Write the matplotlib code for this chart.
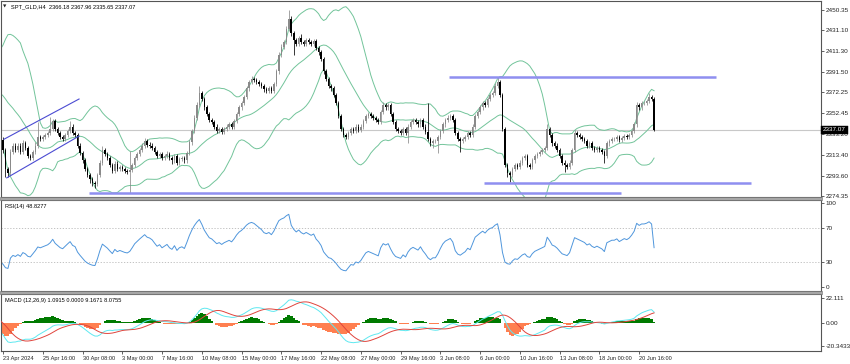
import matplotlib
matplotlib.use("Agg")
import matplotlib.pyplot as plt
import numpy as np
import pandas as pd
from matplotlib.patches import Rectangle

# H4 closes before the visible window, only used to warm up the indicators
pre_closes = [
    2340, 2345, 2350, 2352, 2355, 2352,
    2352, 2350, 2345, 2340, 2335, 2333,
    2335, 2340, 2345, 2360, 2372, 2372,
    2380, 2395, 2410, 2420, 2370, 2344,
    2350, 2355, 2360, 2370, 2380, 2383,
    2375, 2380, 2385, 2390, 2384, 2383,
    2380, 2375, 2370, 2365, 2362, 2361,
    2365, 2370, 2375, 2380, 2378, 2379,
    2400, 2390, 2385, 2395, 2392, 2391,
    2385, 2375, 2350, 2335, 2330, 2327,
]

# visible H4 closes, 23 Apr 00:00 -> 21 Jun 16:00, one row per trading day
closes = [
    2318, 2300, 2296, 2316, 2322, 2318,
    2322, 2316, 2324, 2320, 2312, 2310,
    2316, 2322, 2330, 2328, 2330, 2332,
    2334, 2338, 2345, 2338, 2334, 2330,
    2328, 2332, 2336, 2340, 2334, 2332,
    2322, 2315, 2308, 2300, 2294, 2290,
    2287, 2286, 2294, 2306, 2318, 2314,
    2310, 2304, 2298, 2305, 2300, 2302,
    2300, 2298, 2297, 2299, 2304, 2310,
    2314, 2318, 2322, 2326, 2323, 2322,
    2320, 2316, 2312, 2314, 2310, 2312,
    2314, 2310, 2308, 2312, 2306, 2309,
    2310, 2308, 2315, 2325, 2336, 2348,
    2360, 2372, 2366, 2358, 2352, 2346,
    2344, 2340, 2336, 2338, 2335, 2338,
    2340, 2342, 2340, 2345, 2352, 2358,
    2362, 2368, 2376, 2382, 2385, 2384,
    2382, 2380, 2378, 2375, 2374, 2376,
    2374, 2380, 2392, 2408, 2415, 2420,
    2432, 2442, 2428, 2422, 2418, 2424,
    2420, 2418, 2422, 2420, 2418, 2421,
    2414, 2410, 2404, 2392, 2385, 2378,
    2376, 2370, 2362, 2350, 2338, 2332,
    2330, 2334, 2338, 2336, 2340, 2337,
    2340, 2345, 2350, 2352, 2350, 2348,
    2346, 2344, 2354, 2360, 2358, 2360,
    2352, 2344, 2338, 2336, 2334, 2338,
    2334, 2340, 2344, 2346, 2344, 2342,
    2346, 2340, 2335, 2328, 2324, 2326,
    2326, 2330, 2336, 2342, 2346, 2348,
    2350, 2346, 2334, 2328, 2326, 2328,
    2330, 2334, 2332, 2340, 2350, 2354,
    2358, 2362, 2360, 2366, 2370, 2372,
    2378, 2382, 2370, 2338, 2304, 2296,
    2294, 2300, 2304, 2302, 2306, 2310,
    2312, 2304, 2302, 2308, 2312, 2314,
    2316, 2318, 2320, 2338, 2332, 2324,
    2322, 2318, 2312, 2306, 2304, 2302,
    2306, 2318, 2334, 2332, 2330, 2328,
    2326, 2322, 2324, 2320, 2318, 2320,
    2318, 2316, 2312, 2324, 2326, 2328,
    2328, 2330, 2327, 2329, 2331, 2330,
    2332, 2336, 2342, 2360, 2358, 2362,
    2362, 2364, 2368, 2366.18, 2337.07,
]

# wick length above the body / below the body
wick_up = [
    3, 2, 2, 3, 2, 2,  2, 2, 3, 2, 2, 2,  2, 3, 14, 2, 2, 2,  2, 11, 2, 2, 2, 2,
    2, 2, 2, 5, 2, 2,  2, 2, 2, 2, 2, 2,  2, 2, 2, 2, 4, 2,  2, 2, 2, 2, 2, 2,
    2, 2, 2, 18, 2, 2,  2, 2, 2, 3, 2, 2,  2, 2, 2, 2, 2, 2,  3, 2, 2, 2, 2, 2,
    2, 2, 2, 2, 2, 3,  3, 6, 2, 2, 2, 2,  2, 2, 2, 2, 2, 2,  2, 2, 2, 2, 2, 2,
    2, 2, 2, 2, 3, 2,  2, 2, 2, 2, 2, 2,  2, 2, 2, 2, 3, 2,  3, 8, 2, 2, 2, 2,
    3, 2, 2, 2, 2, 2,  2, 2, 2, 2, 2, 2,  2, 2, 2, 2, 2, 2,  2, 2, 2, 2, 2, 2,
    2, 2, 2, 2, 2, 2,  2, 2, 2, 3, 2, 2,  2, 2, 2, 2, 2, 2,  2, 2, 2, 2, 2, 2,
    2, 2, 2, 27, 2, 2,  2, 2, 2, 2, 2, 3,  2, 2, 2, 2, 2, 2,  2, 2, 2, 2, 2, 2,
    2, 2, 2, 2, 2, 2,  3, 5, 2, 2, 2, 2,  2, 2, 2, 2, 2, 2,  2, 2, 2, 2, 2, 2,
    2, 2, 2, 4, 2, 2,  2, 2, 2, 2, 2, 2,  2, 2, 3, 2, 2, 2,  2, 2, 2, 2, 2, 2,
    2, 2, 2, 2, 2, 2,  2, 2, 2, 2, 2, 2,  2, 2, 2, 3, 2, 2,  2, 2, 4, 2, 1.78,
]
wick_dn = [
    3, 8, 4, 2, 2, 2,  2, 2, 2, 2, 2, 2,  2, 2, 2, 2, 2, 2,  2, 2, 2, 2, 2, 2,
    2, 2, 2, 2, 2, 2,  2, 2, 2, 2, 2, 3,  3, 4, 2, 2, 2, 2,  2, 2, 2, 2, 2, 2,
    2, 2, 2, 20, 2, 2,  2, 2, 2, 2, 2, 2,  2, 2, 2, 2, 2, 2,  2, 2, 3, 2, 2, 2,
    2, 2, 2, 2, 2, 2,  2, 2, 2, 2, 2, 2,  2, 2, 2, 2, 2, 2,  2, 2, 2, 2, 2, 2,
    2, 2, 2, 2, 2, 2,  2, 2, 2, 2, 2, 2,  2, 2, 2, 2, 2, 2,  2, 2, 2, 14, 2, 2,
    2, 2, 2, 2, 2, 2,  2, 2, 2, 2, 2, 2,  2, 2, 2, 2, 2, 2,  2, 2, 2, 2, 2, 2,
    2, 2, 2, 2, 2, 2,  2, 2, 2, 2, 2, 2,  2, 2, 2, 2, 2, 2,  2, 10, 2, 2, 2, 2,
    2, 2, 2, 2, 2, 4,  2, 11, 2, 2, 2, 2,  2, 2, 2, 2, 10, 2,  2, 2, 2, 2, 2, 2,
    2, 2, 2, 2, 2, 2,  2, 2, 2, 2, 2, 4,  6, 2, 2, 2, 2, 2,  2, 2, 2, 2, 2, 2,
    2, 2, 2, 2, 2, 2,  2, 2, 2, 2, 7, 2,  2, 2, 2, 2, 2, 2,  2, 2, 2, 2, 2, 2,
    2, 2, 6, 2, 2, 2,  2, 2, 2, 2, 2, 2,  2, 2, 2, 2, 2, 2,  2, 2, 2, 2, 1.42,
]

time_labels = ["23 Apr 2024", "25 Apr 16:00", "30 Apr 08:00", "3 May 00:00", "7 May 16:00",
               "10 May 08:00", "15 May 00:00", "17 May 16:00", "22 May 08:00", "27 May 00:00",
               "29 May 16:00", "3 Jun 08:00", "6 Jun 00:00", "10 Jun 16:00", "13 Jun 08:00",
               "18 Jun 00:00", "20 Jun 16:00"]
bars_per_label = 16

price_ticks = [2450.35, 2431.10, 2411.30, 2391.50, 2372.25, 2352.45, 2333.20, 2313.40, 2293.60, 2274.35]
rsi_ticks = [100, 70, 30, 0]
macd_ticks = [22.111, 0.0, -20.3433]
macd_tick_text = ["22.111", "0.00", "-20.3433"]
last_price = 2337.07

# drawn objects: channel (bar, price) end points, horizontal levels (price, first bar, last bar)
channel_upper = [(0.4, 2328.0), (30.6, 2366.0)]
channel_lower = [(1.5, 2291.5), (30.6, 2331.0)]
levels = [(2277.5, 34.6, 248.7), (2387.0, 179.5, 286.9), (2287.0, 193.6, 300.9)]

# ---- indicators (MT4 style: population std, Wilder RSI, SMA signal) ----------
n_pre = len(pre_closes)
s = pd.Series(pre_closes + closes, dtype=float)
idx_all = np.arange(len(s)) - n_pre

mid = s.rolling(20).mean()
sd = s.rolling(20).std(ddof=0)
bb_up, bb_dn = mid + 2 * sd, mid - 2 * sd

delta = s.diff()
gain = delta.clip(lower=0).ewm(alpha=1 / 14, adjust=False).mean()
loss = (-delta.clip(upper=0)).ewm(alpha=1 / 14, adjust=False).mean()
rsi = 100 - 100 / (1 + gain / loss)

macd = s.ewm(span=12, adjust=False).mean() - s.ewm(span=26, adjust=False).mean()
signal = macd.rolling(9).mean()
hist = macd - signal

c = np.array(closes, dtype=float)
o = np.r_[pre_closes[-1], c[:-1]]
hi = np.maximum(o, c) + np.array(wick_up)
lo = np.minimum(o, c) - np.array(wick_dn)
idx = np.arange(len(c))

# ---- layout (pixel based, MT4 look) ----------------------------------------
W, H = 850, 364
FONT = "Liberation Sans"
FS = 4.6
FS_SMALL = 4.1
fig = plt.figure(figsize=(W / 100, H / 100), dpi=100, facecolor="white")


def box(top, bottom, left=1, right=821):
    return [left / W, 1 - bottom / H, (right - left) / W, (bottom - top) / H]


ax = fig.add_axes(box(1, 196.5))
ax_rsi = fig.add_axes(box(200, 291))
ax_macd = fig.add_axes(box(294, 351))

x_left, x_right = (1 - 3) / 2.485, (821 - 3) / 2.485
for a in (ax, ax_rsi, ax_macd):
    a.set_xlim(x_left, x_right)
    a.set_facecolor("white")
    for sp in a.spines.values():
        sp.set_color("#555555")
        sp.set_linewidth(0.8)
    a.yaxis.tick_right()
    a.tick_params(axis="y", length=2, width=0.5, pad=1.2, labelsize=FS, colors="#222222")
    a.tick_params(axis="x", length=0)
    a.set_xticks([])

# separators between panels
for top, bot in ((196.5, 200), (291, 294)):
    fig.patches.append(Rectangle((0, 1 - bot / H), 822 / W, (bot - top) / H,
                                 transform=fig.transFigure, facecolor="#a6a6a6",
                                 edgecolor="#707070", lw=0.4))

# ---- main price panel -------------------------------------------------------
ax.set_ylim(2273.9, 2458.6)
ax.axhline(last_price, color="#c8c8c8", lw=0.8, zorder=0)

bb_col = "#72c49a"
for line in (mid, bb_up, bb_dn):
    ax.plot(idx_all, line, color=bb_col, lw=0.7, zorder=1)

up = c >= o
cols = np.where(up, "#8a8a8a", "#000000")
ax.vlines(idx, lo, hi, colors=cols, lw=0.55, zorder=2)
body = np.maximum(np.abs(c - o), 0.4)
ax.bar(idx, body, bottom=np.minimum(o, c), width=0.62, color=cols, lw=0, zorder=3)

for pts in (channel_upper, channel_lower):
    ax.plot([p[0] for p in pts], [p[1] for p in pts], color="#4b4bd2", lw=0.8, zorder=4)
for price, i0, i1 in levels:
    ax.plot([i0, i1], [price, price], color="#8f8ff0", lw=1.8, zorder=4, solid_capstyle="butt")

ax.set_yticks(price_ticks)
ax.set_yticklabels([f"{v:.2f}" for v in price_ticks], fontfamily=FONT)
ax.text(1.0025, last_price, f"{last_price:.2f}", transform=ax.get_yaxis_transform(),
        ha="left", va="center", fontsize=FS, color="white", fontfamily=FONT, zorder=10,
        clip_on=False, bbox=dict(boxstyle="square,pad=0.25", fc="black", ec="black", lw=0.3))

fig.text(3 / W, 1 - 7 / H, "\u25bc", fontsize=3.2, color="#222222", va="center", ha="left",
         fontfamily="DejaVu Sans")
fig.text(11 / W, 1 - 7 / H, "SPT_GLD,H4  2366.18 2367.96 2335.65 2337.07", fontsize=FS_SMALL,
         color="black", va="center", ha="left", fontfamily=FONT)

# ---- RSI panel --------------------------------------------------------------
ax_rsi.set_ylim(-4.4, 103.9)
for lvl in (70, 30):
    ax_rsi.axhline(lvl, color="#b8b8b8", lw=0.6, ls=(0, (1.5, 2)), zorder=0)
ax_rsi.plot(idx_all, rsi, color="#4f96dc", lw=0.7)
ax_rsi.set_yticks(rsi_ticks)
ax_rsi.set_yticklabels([str(v) for v in rsi_ticks], fontfamily=FONT)
ax_rsi.text(4 / 820, 0.955, "RSI(14) 48.8277", transform=ax_rsi.transAxes, fontsize=FS_SMALL,
            ha="left", va="top", fontfamily=FONT)

# ---- MACD panel -------------------------------------------------------------
ax_macd.set_ylim(-25.03, 25.4)
hv = hist.values
ax_macd.bar(idx_all, hv, width=1.05, lw=0, color=np.where(hv >= 0, "#007a00", "#ff7f50"), zorder=1)
ax_macd.plot(idx_all, macd, color="#5ee8f0", lw=0.7, zorder=2)
ax_macd.plot(idx_all, signal, color="#e0443c", lw=0.7, zorder=3)
ax_macd.set_yticks(macd_ticks)
ax_macd.set_yticklabels(macd_tick_text, fontfamily=FONT)
ax_macd.text(4 / 820, 0.93, "MACD (12,26,9) 1.0915 0.0000 9.1671 8.0755",
             transform=ax_macd.transAxes, fontsize=FS_SMALL, ha="left", va="top", fontfamily=FONT)

tick_pos = [k * bars_per_label for k in range(len(time_labels))]
ax_macd.set_xticks(tick_pos)
ax_macd.set_xticklabels(time_labels, fontfamily=FONT, fontsize=FS_SMALL, ha="left")
ax_macd.tick_params(axis="x", length=2, width=0.5, pad=1.5, colors="#222222")

fig.savefig("out.png", dpi=100, facecolor="white")
